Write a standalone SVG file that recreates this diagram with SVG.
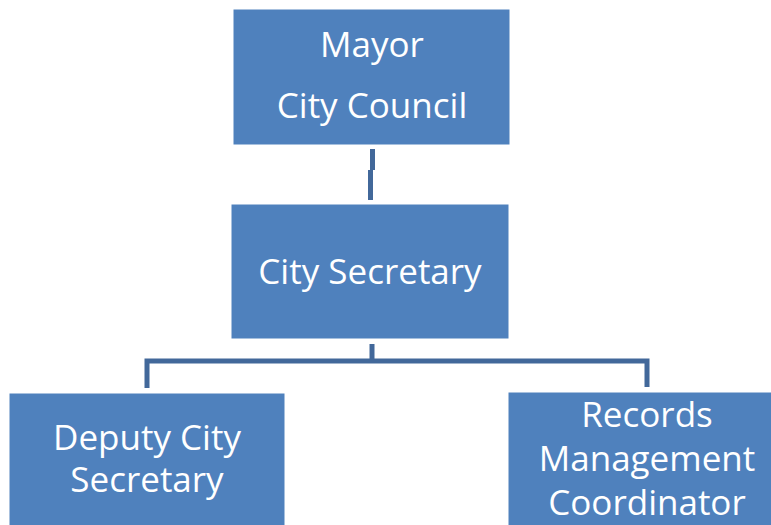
<svg xmlns="http://www.w3.org/2000/svg" width="771" height="525" viewBox="0 0 771 525">
<style>
.box{fill:#4F81BD;stroke:#ffffff;stroke-width:1}
.t{font-family:"Open Sans","Liberation Sans",sans-serif;font-size:35px;fill:#ffffff;text-anchor:middle}
.c{fill:none;stroke:#42689A;stroke-width:5}
</style>
<rect width="771" height="525" fill="#ffffff"/>
<g id="connectors">
<path class="c" d="M372.5,149 V170"/>
<path class="c" d="M370.5,170 V200"/>
<path class="c" d="M372,344 V361 M147,388 V361 H647 V387"/>
</g>
<g id="mayor">
<rect class="box" x="233" y="9" width="277" height="136"/>
<text class="t" x="372" y="57">Mayor</text>
<text class="t" x="372" y="118">City Council</text>
</g>
<g id="city-secretary">
<rect class="box" x="231" y="204" width="278" height="135"/>
<text class="t" x="370" y="284">City Secretary</text>
</g>
<g id="deputy">
<rect class="box" x="9" y="393" width="276" height="133"/>
<text class="t" x="147" y="450">Deputy City</text>
<text class="t" x="147" y="492">Secretary</text>
</g>
<g id="records">
<rect class="box" x="508" y="392" width="265" height="134"/>
<text class="t" x="647" y="427">Records</text>
<text class="t" x="647" y="471">Management</text>
<text class="t" x="647" y="515">Coordinator</text>
</g>
</svg>
